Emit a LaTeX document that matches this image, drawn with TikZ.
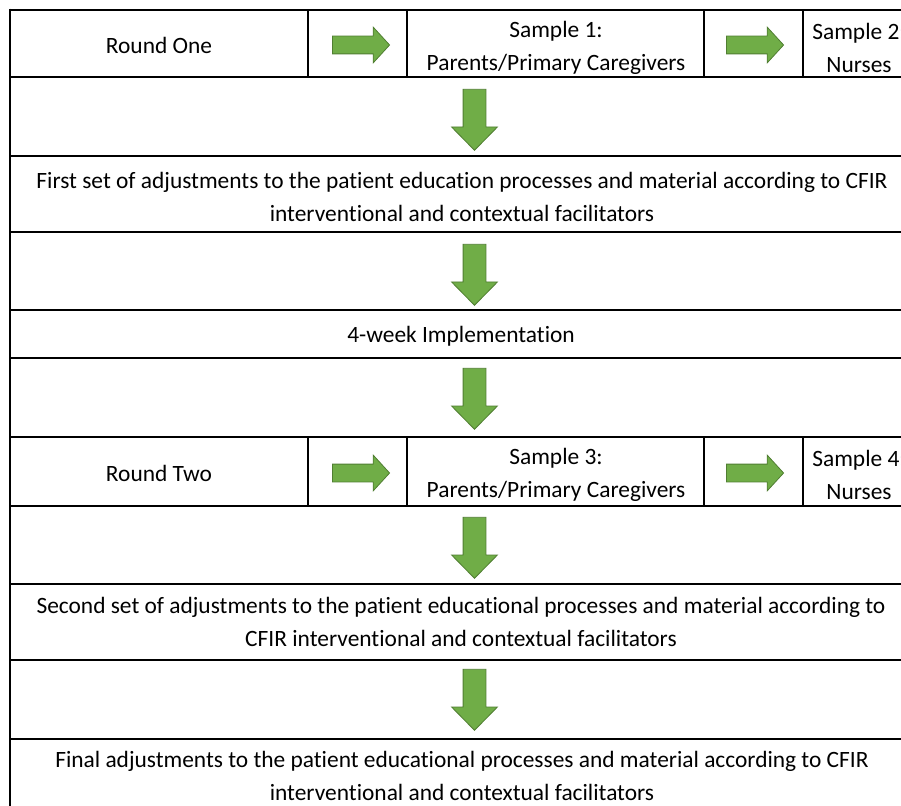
\documentclass[tikz,border=0pt]{standalone}
\usepackage{fontspec}
\setmainfont{Carlito}[Ligatures=NoCommon]
\usepackage{xcolor}
\usetikzlibrary{shapes.arrows}

\begin{document}
\begin{tikzpicture}[x=1pt,y=-1pt,
  txt/.style={align=center,inner sep=0pt,font=\fontsize{23.4}{33}\selectfont},
  grid/.style={line width=2.6pt,draw=black},
  rarrow/.style={single arrow,draw=arrowedge,fill=arrowgreen,line width=0.8pt,
    inner sep=0pt,inner ysep=8.5pt,minimum height=57pt,
    single arrow head extend=9pt,single arrow tip angle=95},
  darrow/.style={single arrow,draw=arrowedge,fill=arrowgreen,line width=0.8pt,
    inner sep=0pt,inner ysep=11pt,minimum height=61pt,rotate=-90,
    single arrow head extend=11.5pt,single arrow tip angle=89}]
\definecolor{arrowgreen}{HTML}{70AD47}
\definecolor{arrowedge}{HTML}{507E32}
\useasboundingbox (0,0) rectangle (901,805);
\clip (0,0) rectangle (901,805);
\fill[white] (0,0) rectangle (901,805);

% table rules
\foreach \y in {10,77,156,232,310,358,437,506,584,660,739} {
  \draw[grid] (10,\y) -- (920,\y);
}
\draw[grid] (10,8.7) -- (10,820);
\foreach \x in {308,407,704,803} {
  \draw[grid] (\x,10) -- (\x,77);
  \draw[grid] (\x,437) -- (\x,506);
}

% round one
\node[txt] (round1) at (159,45) {Round One};
\node[txt] (samp1) at (556,47.5) {Sample 1:\\Parents/Primary Caregivers};
\node[txt] (samp2) at (859,47.5) {Sample 2:\\Nurses};
\node[rarrow] (r1a) at (357,45) {};
\node[rarrow] (r1b) at (751,45) {};

\node[darrow] (d1) at (474.5,114) {};
\node[txt] (adj1) at (462,196.5) {First set of adjustments to the patient education processes and material according to CFIR\\interventional and contextual facilitators};
\node[darrow] (d2) at (474.5,269) {};
\node[txt] (impl) at (461,336) {4-week Implementation};
\node[darrow] (d3) at (474.5,393) {};

% round two
\node[txt] (round2) at (159,473) {Round Two};
\node[txt] (samp3) at (556,475) {Sample 3:\\Parents/Primary Caregivers};
\node[txt] (samp4) at (859,475) {Sample 4:\\Nurses};
\node[rarrow] (r2a) at (357,473) {};
\node[rarrow] (r2b) at (751,473) {};

\node[darrow] (d4) at (474.5,542) {};
\node[txt] (adj2) at (461,622) {Second set of adjustments to the patient educational processes and material according to\\CFIR interventional and contextual facilitators};
\node[darrow] (d5) at (474.5,694) {};
\node[txt] (final) at (462,776) {Final adjustments to the patient educational processes and material according to CFIR\\interventional and contextual facilitators};
\end{tikzpicture}
\end{document}
